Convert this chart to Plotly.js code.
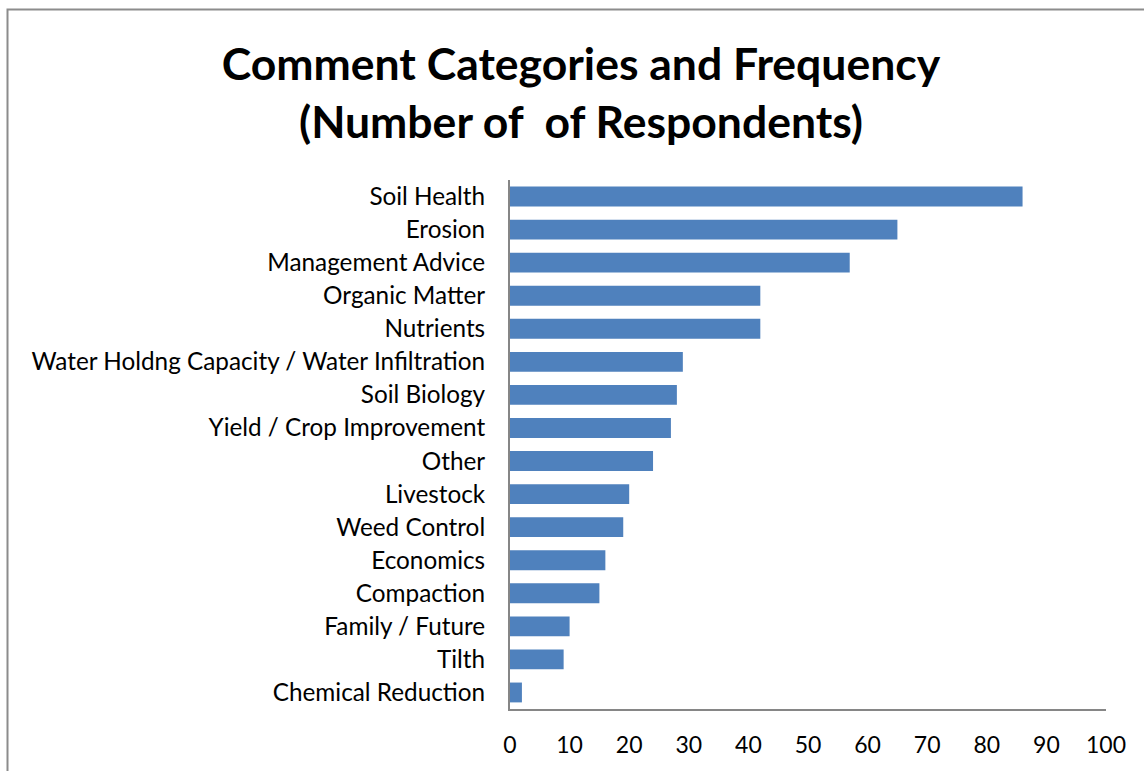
<!DOCTYPE html>
<html>
<head>
<meta charset="utf-8">
<script src="https://cdn.plot.ly/plotly-3.0.1.min.js"></script>
<style>html,body{margin:0;padding:0;background:#fff;}#chart{width:1144px;height:771px;}</style>
</head>
<body>
<div id="chart"></div>
<script>
const categories = [
  "Soil Health", "Erosion", "Management Advice", "Organic Matter", "Nutrients",
  "Water Holdng Capacity / Water Infiltration", "Soil Biology", "Yield / Crop Improvement",
  "Other", "Livestock", "Weed Control", "Economics", "Compaction", "Family / Future",
  "Tilth", "Chemical Reduction"
];
const respondents = [86, 65, 57, 42, 42, 29, 28, 27, 24, 20, 19, 16, 15, 10, 9, 2];
const xTicks = [0, 10, 20, 30, 40, 50, 60, 70, 80, 90, 100];
const chartTitle = "Comment Categories and Frequency<br>(Number of  of Respondents)";

const W = 1144, H = 771;
const L = 510, R = 1106, T = 180, B = 709;
const pw = R - L, ph = B - T;
const px = v => (v - L) / pw;
const py = v => (B - v) / ph;

const trace = {
  type: 'bar',
  orientation: 'h',
  y: categories,
  x: respondents,
  marker: { color: '#4F81BD', line: { width: 0 } },
  hoverinfo: 'x+y'
};

const layout = {
  width: W, height: H,
  margin: { l: L, r: W - R, t: T, b: H - B, pad: 0 },
  paper_bgcolor: '#fff', plot_bgcolor: '#fff',
  font: { family: 'Lato, "Open Sans", sans-serif', color: '#000' },
  title: {
    text: chartTitle,
    font: { size: 44.5, family: 'Lato, sans-serif', weight: 'bold', color: '#000' },
    xref: 'container', yref: 'container',
    x: 581 / W, xanchor: 'center',
    y: 1 - 80 / H, yanchor: 'middle'
  },
  bargap: 0.4,
  showlegend: false,
  xaxis: {
    range: [0, 100],
    tickvals: xTicks,
    ticktext: xTicks.map(String),
    showgrid: false, zeroline: false,
    showline: true, linecolor: '#868686', linewidth: 2,
    ticks: '',
    ticklabelstandoff: 14,
    tickfont: { size: 23, color: '#000' },
    fixedrange: true
  },
  yaxis: {
    categoryorder: 'array',
    categoryarray: categories.slice().reverse(),
    autorange: true,
    showgrid: false, zeroline: false,
    showline: true, linecolor: '#868686', linewidth: 2,
    ticks: '',
    ticklabelstandoff: 18,
    tickfont: { size: 24.3, color: '#000' },
    fixedrange: true
  },
  shapes: [{
    type: 'rect', xref: 'paper', yref: 'paper', layer: 'below',
    x0: px(7.5), x1: px(1160), y0: py(790), y1: py(9.5),
    line: { color: '#8C8C8C', width: 2 }, fillcolor: 'rgba(0,0,0,0)'
  }]
};

Plotly.newPlot('chart', [trace], layout, { displayModeBar: false, staticPlot: true });
</script>
</body>
</html>
